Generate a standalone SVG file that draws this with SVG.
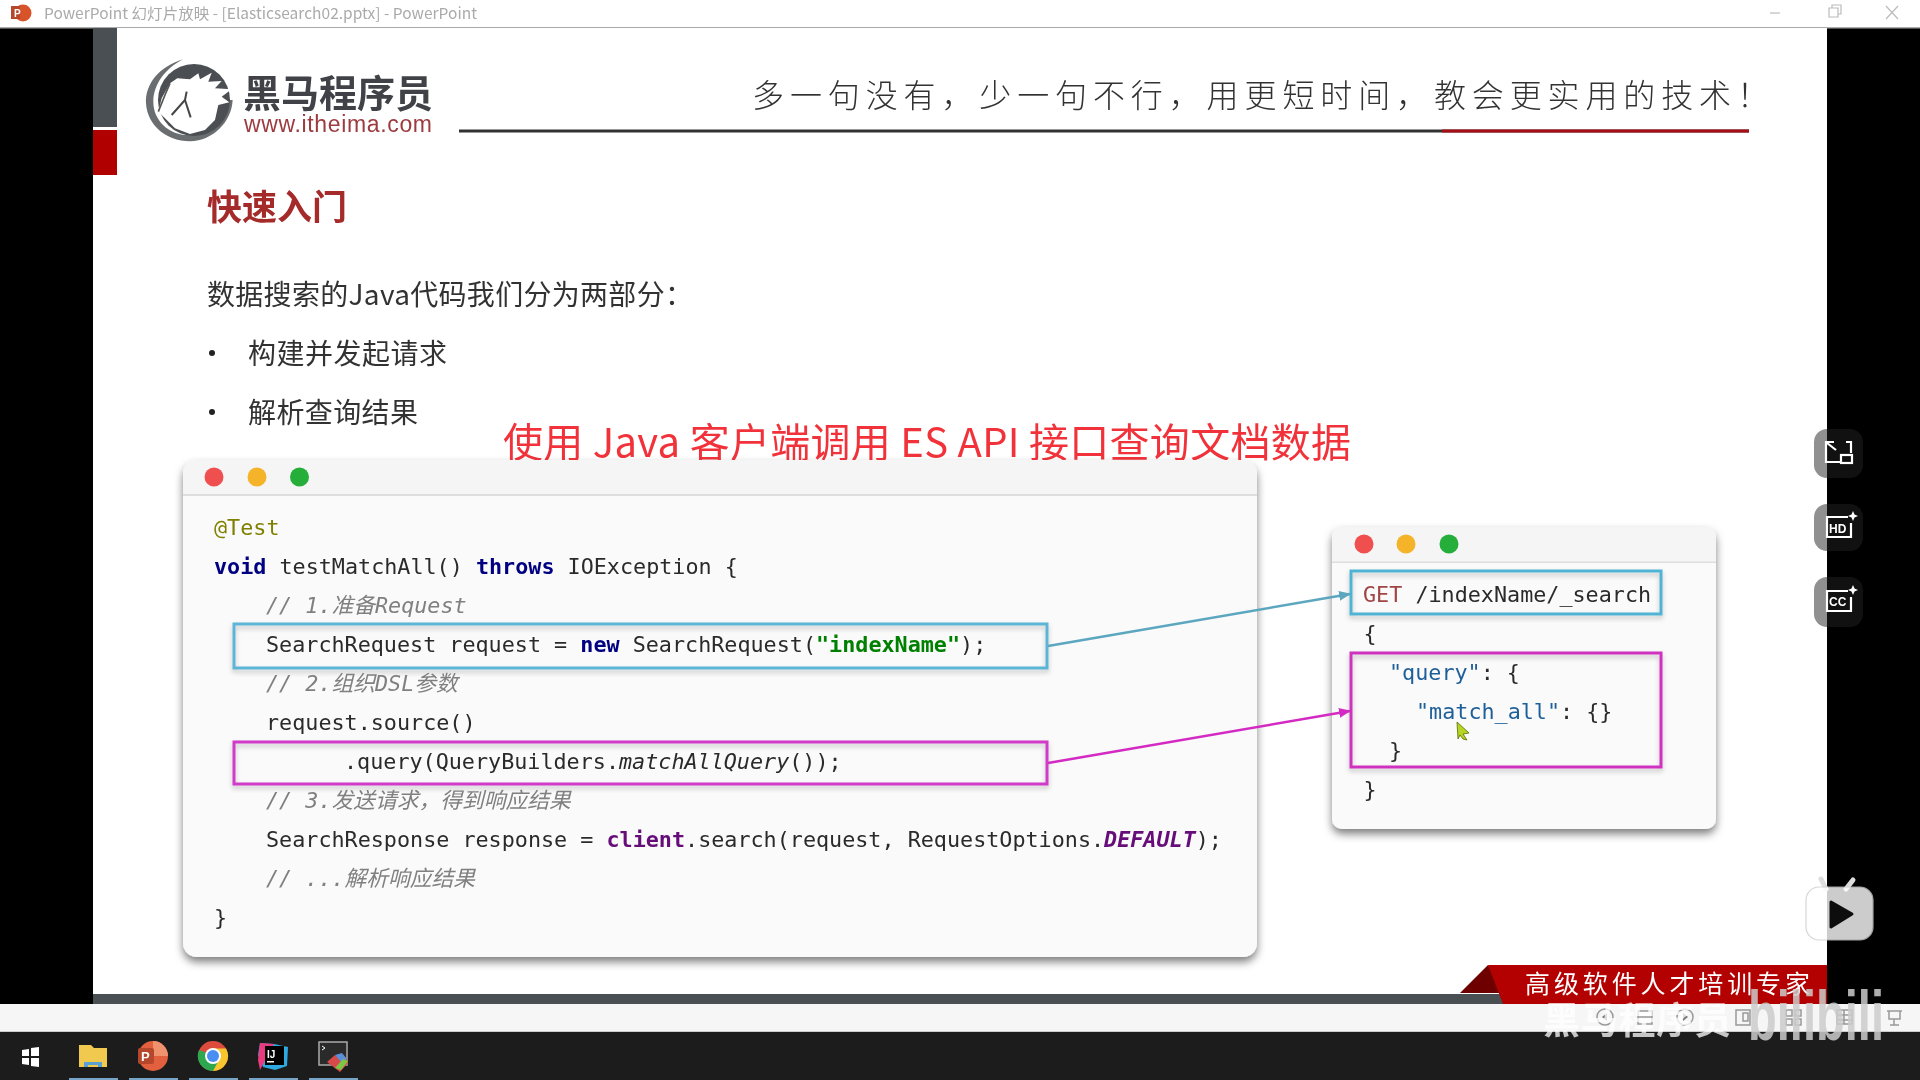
<svg xmlns="http://www.w3.org/2000/svg" width="1920" height="1080" viewBox="0 0 1920 1080">
<style>
.cn{font-family:"Noto Sans CJK SC","Noto Sans",sans-serif}
.code{font-family:"DejaVu Sans Mono","Noto Sans CJK SC",monospace;font-size:21.75px;fill:#2b2b2b;white-space:pre}
.kw{font-weight:700;fill:#000080}
.cm{font-style:italic;fill:#808080}
.body{font-size:28px;fill:#333}
.win{fill:#fafafa;filter:url(#sh)}
.hl{fill:none;stroke-width:3}
.ib{fill:#222;opacity:.5}
.ic{fill:none;stroke:#fff;stroke-width:2.2}
.tb{fill:none;stroke:#999;stroke-width:1.5}
.ul{fill:#76a5c8}
</style>
<defs>
<filter id="soft" filterUnits="userSpaceOnUse" x="0" y="0" width="1920" height="1080"><feGaussianBlur stdDeviation=".45"/></filter>
<filter id="sh" x="-5%" y="-5%" width="110%" height="112%"><feDropShadow dx="0" dy="5" stdDeviation="4" flood-color="#000" flood-opacity=".5"/></filter>
<filter id="bs" x="-3%" y="-15%" width="106%" height="135%"><feDropShadow dx="0" dy="3" stdDeviation="2.5" flood-color="#000" flood-opacity=".22"/></filter>
<marker id="ab" markerWidth="12" markerHeight="10" refX="11" refY="5" orient="auto" markerUnits="userSpaceOnUse"><path d="M0 0L12 5L0 10z" fill="#5ba7bf"/></marker>
<marker id="am" markerWidth="12" markerHeight="10" refX="11" refY="5" orient="auto" markerUnits="userSpaceOnUse"><path d="M0 0L12 5L0 10z" fill="#d42bc4"/></marker>
</defs>

<rect width="1920" height="1080" fill="#000"/>
<g filter="url(#soft)">

<g id="titlebar">
<rect width="1920" height="27" fill="#fff"/>
<rect y="27" width="1920" height="1.5" fill="#aaa"/>
<circle cx="23" cy="13" r="8.5" fill="#d9532c"/><rect x="11" y="6" width="9" height="13" fill="#b7472a"/>
<text x="14" y="17" font-family="Liberation Sans" font-size="10" font-weight="700" fill="#fff">P</text>
<text class="cn" x="44" y="18.500" font-size="15" fill="#aaa" textLength="433" lengthAdjust="spacingAndGlyphs">PowerPoint 幻灯片放映 - [Elasticsearch02.pptx] - PowerPoint</text>
<path d="M1770 13H1780" stroke="#bbb" stroke-width="1.200"/>
<path d="M1829 8h9v9h-9zM1832 8V5h9v9h-3" fill="none" stroke="#bbb" stroke-width="1.200"/>
<path d="M1886 6l12 13M1898 6l-12 13" stroke="#bbb" stroke-width="1.200"/>
</g>

<rect id="slide" x="93" y="28" width="1734" height="976" fill="#fff"/>

<g id="sidebar">
<rect x="93" y="28" width="24" height="99" fill="#4a5052"/>
<rect x="93" y="130" width="24" height="45" fill="#b00000"/>
</g>

<g id="logo">
<g transform="translate(90 20) scale(.3333)">
<path d="M280 118C205 140 165 195 168 250C172 320 235 365 300 364C370 362 425 305 428 240L400 240C395 300 350 345 295 345C235 345 190 300 190 245C190 195 225 145 280 118z" fill="#6a6e70"/>
<circle cx="312" cy="240" r="108" fill="#4b4f52"/>
<path d="M205 275L215 235L240 190L262 175L300 178L325 160L330 178L365 158L355 185L395 183L375 205L425 208L395 230L418 247L385 255L375 300L345 330L300 342L255 325L225 295z" fill="#fff"/>
<path d="M290 215L285 240L245 285M285 240L302 292" fill="none" stroke="#444" stroke-width="6"/>
<path d="M205 275L225 225L240 190" fill="none" stroke="#555" stroke-width="5"/>
</g>
<text class="cn" x="243" y="107" font-size="38" font-weight="700" fill="#3f4346" textLength="190">黑马程序员</text>
<text x="244" y="132" font-family="Liberation Sans" font-size="23" fill="#9c3a3f" textLength="188">www.itheima.com</text>
</g>

<g id="header">
<text class="cn" x="752" y="107" font-size="32" font-weight="300" fill="#333" textLength="1017">多一句没有，少一句不行，用更短时间，教会更实用的技术！</text>
<rect x="459" y="129.500" width="1290" height="3" fill="#333"/>
<rect x="1442" y="129.500" width="307" height="3" fill="#a80f14"/>
</g>

<g id="content">
<text class="cn" x="207" y="220" font-size="35" font-weight="700" fill="#a52a2a" textLength="140">快速入门</text>
<text class="cn body" x="207" y="305" textLength="486">数据搜索的Java代码我们分为两部分：</text>
<circle cx="212" cy="353" r="3" fill="#222"/>
<text class="cn body" x="248" y="364" textLength="199">构建并发起请求</text>
<circle cx="212" cy="412" r="3" fill="#222"/>
<text class="cn body" x="248" y="423" textLength="170">解析查询结果</text>
<text class="cn" x="503" y="456.500" font-size="40" fill="#f2333a" textLength="848">使用 Java 客户端调用 ES API 接口查询文档数据</text>
</g>

<g id="java-window">
<rect class="win" x="183" y="460" width="1074" height="497" rx="14"/>
<path d="M183 495V474a14 14 0 0 1 14-14H1243a14 14 0 0 1 14 14V495z" fill="#f5f5f5"/>
<rect x="183" y="494" width="1074" height="2" fill="#dedede"/>
<circle cx="214" cy="477" r="9.500" fill="#f0504f"/><circle cx="257" cy="477" r="9.500" fill="#f5b32a"/><circle cx="299.500" cy="477" r="9.500" fill="#27ae3a"/>
<rect class="hl" x="234" y="624" width="813" height="44" fill="#fff" stroke="#5bb4d6" filter="url(#bs)"/>
<rect class="hl" x="234" y="742" width="813" height="42" stroke="#d03bc8" filter="url(#bs)"/>
<text class="code" x="214" y="535" style="fill:#808000">@Test</text>
<text class="code" x="214" y="574"><tspan class="kw">void</tspan> testMatchAll() <tspan class="kw">throws</tspan> IOException {</text>
<text class="code cm" x="266" y="613">// 1.准备Request</text>
<text class="code" x="266" y="652">SearchRequest request = <tspan class="kw">new</tspan> SearchRequest(<tspan font-weight="700" fill="#008000">"indexName"</tspan>);</text>
<text class="code cm" x="266" y="691">// 2.组织DSL参数</text>
<text class="code" x="266" y="730">request.source()</text>
<text class="code" x="344" y="769">.query(QueryBuilders.<tspan font-style="italic">matchAllQuery</tspan>());</text>
<text class="code cm" x="266" y="808">// 3.发送请求，得到响应结果</text>
<text class="code" x="266" y="847">SearchResponse response = <tspan font-weight="700" fill="#660e7a">client</tspan>.search(request, RequestOptions.<tspan font-weight="700" font-style="italic" fill="#660e7a">DEFAULT</tspan>);</text>
<text class="code cm" x="266" y="886">// ...解析响应结果</text>
<text class="code" x="214" y="925">}</text>
</g>

<g id="dsl-window">
<rect class="win" x="1332" y="527" width="384" height="302" rx="10"/>
<path d="M1332 562V537a10 10 0 0 1 10-10H1706a10 10 0 0 1 10 10V562z" fill="#f5f5f5"/>
<rect x="1332" y="561.500" width="384" height="1.500" fill="#dedede"/>
<circle cx="1364" cy="544" r="9.500" fill="#f0504f"/><circle cx="1406" cy="544" r="9.500" fill="#f5b32a"/><circle cx="1449" cy="544" r="9.500" fill="#27ae3a"/>
<rect class="hl" x="1351" y="571" width="310" height="43" stroke="#4fb3d4" fill="#fff" filter="url(#bs)"/>
<rect class="hl" x="1351" y="653" width="310" height="114" stroke="#d030c0" filter="url(#bs)"/>
<text class="code" x="1363" y="602"><tspan fill="#a04545">GET</tspan> /indexName/_search</text>
<text class="code" x="1363.500" y="641">{</text>
<text class="code" x="1389" y="680"><tspan fill="#1f5f99">"query"</tspan>: {</text>
<text class="code" x="1416" y="719"><tspan fill="#1f5f99">"match_all"</tspan>: {}</text>
<text class="code" x="1389" y="758">}</text>
<text class="code" x="1363.500" y="797">}</text>
<path d="M1457 722L1469 733L1463 734L1467 740L1463 739L1460 735L1458 739z" fill="#b6d422" stroke="#556b00" stroke-width=".8"/>
</g>

<g id="connectors">
<path d="M1048 646L1350 594" fill="none" stroke="#5ba7bf" stroke-width="2.500" marker-end="url(#ab)"/>
<path d="M1048 763L1350 711" fill="none" stroke="#d42bc4" stroke-width="2.500" marker-end="url(#am)"/>
</g>

<g id="footer">
<rect x="93" y="994" width="1420" height="10" fill="#4a5052"/>
<path d="M1488 965L1460 993H1505z" fill="#6e0000"/>
<path d="M1488 965H1827V1004H1503z" fill="#b30000"/>
<text class="cn" x="1525" y="993" font-size="25" fill="#fff" textLength="285">高级软件人才培训专家</text>
</g>

<g id="statusbar">
<rect y="1004" width="1920" height="27" fill="#f6f6f6"/>
<rect y="1031" width="1920" height="1.500" fill="#ccc"/>
<circle class="tb" cx="1605" cy="1017" r="8"/><path d="M1607 1013l-5 4l5 4z" fill="#777"/>
<path class="tb" d="M1638 1011h14v13h-14zM1638 1017h14"/>
<circle class="tb" cx="1685" cy="1017" r="8"/><path d="M1683 1013l5 4l-5 4z" fill="#777"/>
<path class="tb" d="M1736 1010h14v15h-14zM1743 1013h5v8h-5z"/>
<path class="tb" d="M1786 1010h6v6h-6zM1795 1010h6v6h-6zM1786 1019h6v6h-6zM1795 1019h6v6h-6z"/>
<path class="tb" d="M1837 1010h15v14h-15zM1844 1010v14M1837 1015h15M1837 1020h15"/>
<path class="tb" d="M1887 1011h15M1889 1011v8h11v-8M1894 1019v6M1890 1025h9"/>
</g>

<g id="taskbar">
<rect y="1032" width="1920" height="48" fill="#1e1e1e"/>
<path d="M22 1050l7-1v7h-7zM31 1048l8-1v9h-8zM22 1058h7v7l-7-1zM31 1058h8v9l-8-1z" fill="#fff"/>
<path d="M79 1045h12l3 3h13v19H79z" fill="#f2c94f"/><path d="M84 1062h18v5h-4v-2h-10v2h-4z" fill="#5aa0d0"/>
<circle cx="153" cy="1056" r="15" fill="#e2603c"/><path d="M153 1056V1041a15 15 0 0 1 15 15z" fill="#f0926e"/>
<rect x="138" y="1048" width="16" height="16" rx="2" fill="#b7472a"/>
<text x="141" y="1061" font-family="Liberation Sans" font-size="13" font-weight="700" fill="#fff">P</text>
<circle cx="213" cy="1056" r="15" fill="#dd4b3e"/><path d="M213 1071a15 15 0 0 0 13-7.500 15 15 0 0 0 0-15H213z" fill="#f7c52d"/><path d="M199 1050a15 15 0 0 0 14 21l7-13z" fill="#2fa84f"/><circle cx="213" cy="1056" r="8" fill="#fff"/><circle cx="213" cy="1056" r="6" fill="#4a8ef2"/>
<path d="M260 1043l14 1l14 3l-1 19l-12 4l-12-3l-5-12z" fill="#2fa8e0"/><path d="M260 1043l14 1l-14 26l-2-10z" fill="#e93a7d"/>
<rect x="265" y="1046" width="19" height="19" fill="#000"/>
<text x="267" y="1058" font-family="Liberation Sans" font-size="10" font-weight="700" fill="#fff">IJ</text><rect x="267" y="1061" width="7" height="1.500" fill="#fff"/>
<rect x="319" y="1042" width="28" height="23" fill="#2a2a2a" stroke="#aaa" stroke-width="1.500"/>
<path d="M322 1046l3 2l-3 2" stroke="#fff" fill="none"/>
<path d="M327 1062l8-7l5 5l6-3l2 6l-8 9z" fill="#d84a4a"/><path d="M335 1055l7-2l5 6l-6 3z" fill="#5b8fd8"/><path d="M335 1068l6 2l7-9l-5-2z" fill="#7cc544"/>
<rect class="ul" x="69" y="1078" width="49" height="2"/><rect class="ul" x="129" y="1078" width="49" height="2"/><rect class="ul" x="189" y="1078" width="49" height="2"/><rect class="ul" x="249" y="1078" width="49" height="2"/><rect class="ul" x="309" y="1078" width="49" height="2"/>
</g>

<g id="player-buttons">
<rect class="ib" x="1814" y="429" width="49" height="49" rx="13"/>
<path class="ic" d="M1846 442h5v11M1834 442h-8v20h14"/><rect class="ic" x="1841" y="455" width="11" height="8"/><path class="ic" d="M1827 443l9 7"/>
<rect class="ib" x="1814" y="504" width="49" height="47" rx="13"/>
<path class="ic" d="M1848 517h-21v20h24v-14"/>
<text x="1829" y="533" font-family="Liberation Sans" font-size="12" font-weight="700" fill="#fff">HD</text>
<path d="M1853 511l1.500 3.500 3.500 1.500-3.500 1.500-1.500 3.500-1.500-3.500-3.500-1.500 3.500-1.500z" fill="#fff"/>
<rect class="ib" x="1814" y="577" width="49" height="50" rx="13"/>
<path class="ic" d="M1848 591h-21v20h24v-14"/>
<text x="1829" y="606" font-family="Liberation Sans" font-size="12" font-weight="700" fill="#fff">CC</text>
<path d="M1853 585l1.500 3.500 3.500 1.500-3.500 1.500-1.500 3.500-1.500-3.500-3.500-1.500 3.500-1.500z" fill="#fff"/>
</g>

<g id="watermark">
<path d="M1826 889l-5-10M1846 889l7-9" stroke="#ddd" stroke-width="5" stroke-linecap="round"/>
<rect x="1806" y="887" width="67" height="53" rx="13" fill="#fff" opacity=".8" stroke="#ccc" stroke-width="1.200"/>
<path d="M1831 902L1852 914L1831 927z" fill="#111" stroke="#111" stroke-width="3" stroke-linejoin="round"/>
<text class="cn" x="1543" y="1034" font-size="37" font-weight="700" fill="#fff" opacity=".75" textLength="188">黑马程序员</text>
<text x="1748" y="1040" font-family="Liberation Sans" font-size="70" font-weight="700" fill="#ccc" opacity=".85" textLength="136" lengthAdjust="spacingAndGlyphs">bilibili</text>
</g>

</g>
</svg>
